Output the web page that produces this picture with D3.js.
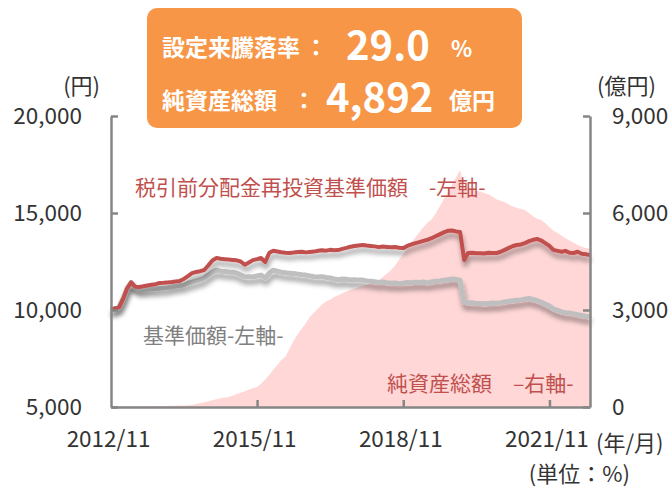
<!DOCTYPE html>
<html>
<head>
<meta charset="utf-8">
<script src="https://cdn.jsdelivr.net/npm/d3@7"></script>
<style>
  body { margin: 0; background: #fff; }
  svg text { font-family: "Noto Sans CJK JP", "Noto Sans", sans-serif; }
</style>
</head>
<body>
<svg id="chart" width="671" height="488"></svg>
<script>
// monthly data, first point = 2012/11
const startMonth = new Date(2012, 10, 1);
const tickMonths = ["2012/11", "2015/11", "2018/11", "2021/11"];
const leftTicks = [5000, 10000, 15000, 20000];
const rightTicks = [0, 3000, 6000, 9000];

// 基準価額 (円)
const navValues = [
  10000,10080,10150,10600,11100,11420,11180,11060,11060,11080,11100,11090,
  11120,11130,11150,11200,11230,11260,11290,11380,11440,11500,11560,11650,
  11800,11950,12060,12000,11980,11960,11950,11900,11800,11700,11720,11700,
  11760,11800,11650,11900,12050,12000,11950,11920,11900,11880,11850,11820,
  11800,11760,11720,11700,11720,11680,11650,11600,11560,11600,11580,11550,
  11560,11540,11540,11500,11480,11460,11420,11440,11400,11380,11390,11360,
  11380,11420,11400,11430,11420,11440,11400,11450,11480,11500,11530,11560,
  11600,11580,11540,10400,10360,10380,10340,10330,10320,10340,10360,10350,
  10380,10420,10450,10480,10500,10520,10560,10600,10540,10480,10400,10300,
  10200,10050,9980,9900,9860,9840,9800,9760,9720,9680,9640
];

// 税引前分配金再投資基準価額 (円)
const reinvValues = [
  10000,10080,10150,10600,11100,11420,11200,11190,11220,11260,11300,11330,
  11390,11400,11420,11440,11470,11500,11600,11750,11900,11960,12000,12060,
  12300,12550,12680,12640,12620,12600,12580,12560,12500,12330,12450,12570,
  12620,12680,12470,12950,13050,13020,12980,12950,12940,12960,12990,13000,
  12970,12990,13010,13050,13080,13060,13100,13080,13090,13150,13200,13260,
  13300,13330,13350,13320,13300,13280,13240,13270,13250,13230,13250,13210,
  13190,13300,13380,13450,13500,13560,13620,13700,13800,13900,14000,14080,
  14100,14050,14020,12580,12940,12950,12920,12930,12910,12950,12940,12940,
  13000,13100,13200,13300,13350,13380,13450,13550,13620,13660,13580,13450,
  13300,13100,13050,13000,13050,12950,12940,13000,12900,12870,12830
];

// 純資産総額 (億円)
const netAssets = [
  5,8,10,12,14,15,16,18,20,22,24,26,
  28,30,33,36,40,44,48,55,62,90,120,150,
  180,210,240,270,290,310,350,400,440,490,540,580,
  620,720,850,1000,1150,1300,1450,1560,1800,2050,2250,2420,
  2600,2780,2920,3050,3170,3260,3320,3400,3460,3520,3570,3620,
  3660,3700,3740,3780,3810,3840,3920,4020,4130,4230,4380,4560,
  4720,4900,5080,5250,5400,5560,5700,5800,5980,6200,6420,6640,
  6870,7100,7330,6800,6760,6720,6690,6660,6620,6580,6500,6420,
  6380,6330,6260,6200,6160,6120,6090,6000,5900,5820,5780,5680,
  5560,5450,5380,5300,5220,5150,5080,5010,4960,4920,4892
];

const dates = navValues.map((v, i) => d3.timeMonth.offset(startMonth, i));
const parseTick = d3.timeParse("%Y/%m");

const plot = { left: 111, right: 590, top: 116, bottom: 407 };
const axisColor = "#868686";

const svg = d3.select("#chart");

const x = d3.scaleTime()
  .domain([dates[0], dates[dates.length - 1]])
  .range([plot.left, plot.right]);
const yL = d3.scaleLinear().domain([5000, 20000]).range([plot.bottom, plot.top]);
const yR = d3.scaleLinear().domain([0, 9000]).range([plot.bottom, plot.top]);

const defs = svg.append("defs");
defs.append("filter")
  .attr("id", "shadow")
  .attr("x", "-10%").attr("y", "-30%")
  .attr("width", "120%").attr("height", "180%")
  .append("feDropShadow")
  .attr("dx", 1).attr("dy", 5)
  .attr("stdDeviation", 2.8)
  .attr("flood-color", "#000")
  .attr("flood-opacity", 0.38);

// net assets area (right axis)
const area = d3.area()
  .x((d, i) => x(dates[i]))
  .y0(yR(0))
  .y1(d => yR(d));

svg.append("path")
  .datum(netAssets)
  .attr("fill", "#FFD7D7")
  .attr("d", area);

const lineL = d3.line()
  .x((d, i) => x(dates[i]))
  .y(d => yL(d));

svg.append("path")
  .datum(navValues)
  .attr("fill", "none")
  .attr("stroke", "#BFBFBF")
  .attr("stroke-width", 5)
  .attr("stroke-linejoin", "round")
  .attr("filter", "url(#shadow)")
  .attr("d", lineL);

svg.append("path")
  .datum(reinvValues)
  .attr("fill", "none")
  .attr("stroke", "#C0504D")
  .attr("stroke-width", 4)
  .attr("stroke-linejoin", "round")
  .attr("filter", "url(#shadow)")
  .attr("d", lineL);

// axes
const fmt = d3.format(",");

const gL = svg.append("g")
  .attr("transform", `translate(${plot.left},0)`)
  .call(d3.axisLeft(yL).tickValues(leftTicks).tickFormat(fmt)
    .tickSizeInner(-7).tickSizeOuter(0).tickPadding(29));

const gR = svg.append("g")
  .attr("transform", `translate(${plot.right},0)`)
  .call(d3.axisRight(yR).tickValues(rightTicks).tickFormat(fmt)
    .tickSizeInner(-7).tickSizeOuter(0).tickPadding(22));

const gB = svg.append("g")
  .attr("transform", `translate(0,${plot.bottom})`)
  .call(d3.axisBottom(x).tickValues(tickMonths.map(parseTick))
    .tickFormat(d3.timeFormat("%Y/%m")).tickSizeInner(-7).tickSizeOuter(0).tickPadding(24));

[gL, gR, gB].forEach(g => {
  g.select(".domain").attr("stroke", axisColor).attr("stroke-width", 2.5);
  g.selectAll(".tick line").attr("stroke", axisColor).attr("stroke-width", 2.5);
  g.selectAll(".tick text")
    .attr("fill", "#333")
    .style("font-size", "22.5px");
});
gB.selectAll(".tick text").attr("dx", -3);
gB.selectAll(".tick").filter((d, i) => i === 0).select("line").remove();

// unit labels
const unit = (t, xx, yy, anchor) => svg.append("text")
  .attr("x", xx).attr("y", yy)
  .attr("text-anchor", anchor || "start")
  .attr("fill", "#333")
  .style("font-size", "22px")
  .text(t);

unit("(円)", 100, 94, "end");
unit("(億円)", 597, 94);
unit("(年/月)", 596, 451);
unit("(単位：%)", 630, 482, "end");

// series labels
svg.append("text")
  .attr("x", 135).attr("y", 195)
  .attr("fill", "#C0504D")
  .style("font-size", "21px")
  .text("税引前分配金再投資基準価額　-左軸-");

svg.append("text")
  .attr("x", 143).attr("y", 343)
  .attr("fill", "#808080")
  .style("font-size", "21px")
  .text("基準価額-左軸-");

svg.append("text")
  .attr("x", 387).attr("y", 391)
  .attr("fill", "#C0504D")
  .style("font-size", "21px")
  .text("純資産総額　–右軸-");

// summary box
const box = svg.append("g");
box.append("rect")
  .attr("x", 147).attr("y", 8)
  .attr("width", 375).attr("height", 120)
  .attr("rx", 10)
  .attr("fill", "#F79646");

const boxText = (t, xx, yy, size, anchor) => box.append("text")
  .attr("x", xx).attr("y", yy)
  .attr("text-anchor", anchor || "start")
  .attr("fill", "#fff")
  .attr("font-weight", "bold")
  .style("font-size", size + "px")
  .text(t);

boxText("設定来騰落率", 162, 56, 23);
boxText("：", 316, 56, 23, "middle");
boxText("29.0", 346, 60, 40);
boxText("%", 451, 57, 22);
boxText("純資産総額", 162, 109, 23);
boxText("：", 304, 109, 23, "middle");
boxText("4,892", 326, 112, 40);
boxText("億円", 449, 109, 23);
</script>
</body>
</html>
